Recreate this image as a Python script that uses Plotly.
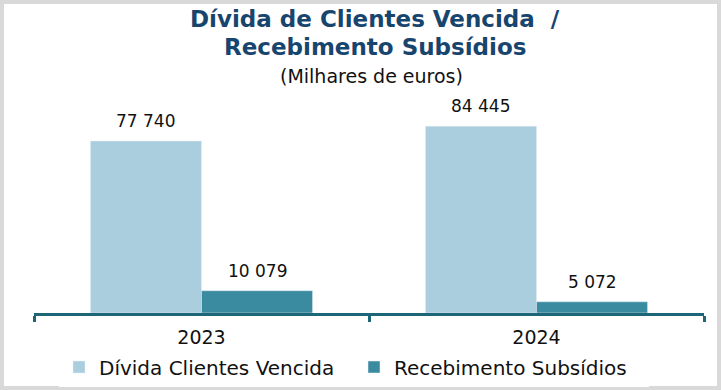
import plotly.graph_objects as go

categories = ["2023", "2024"]
divida_vencida = [77740, 84445]
receb_subsidios = [10079, 5072]
series_names = ["Dívida Clientes Vencida", "Recebimento Subsídios"]
title_lines = ["Dívida de Clientes Vencida  /", "Recebimento Subsídios"]
subtitle_text = "(Milhares de euros)"

LIGHT = "#aacede"
TEAL = "#3b8ba0"
AXIS = "#1d6678"
TITLE = "#17456e"
FONT = "'DejaVu Sans', sans-serif"

W, H = 721, 390
ML, MR, MT, MB = 34, 17, 110, 77
PW, PH = W - ML - MR, H - MT - MB

fig = go.Figure()
fig.add_bar(x=categories, y=divida_vencida, name=series_names[0], marker_color=LIGHT)
fig.add_bar(x=categories, y=receb_subsidios, name=series_names[1], marker_color=TEAL)

def fmt(v):
    return f"{v:,}".replace(",", " ")

def px_x(px):
    return (px - ML) / PW

def px_y(py):
    return (H - MB - py) / PH

annotations = []
for vals, shift in ((divida_vencida, -56), (receb_subsidios, 56)):
    for i, v in enumerate(vals):
        annotations.append(dict(x=i, y=v, xref="x", yref="y", text=fmt(v), showarrow=False,
                                xshift=shift, yshift=8, yanchor="bottom",
                                font=dict(family=FONT, size=17, color="#111111")))
for line, cy in zip(title_lines, (19, 47)):
    annotations.append(dict(x=px_x(375), y=px_y(cy), xref="paper", yref="paper", text=line,
                            showarrow=False, xanchor="center", yanchor="middle",
                            font=dict(family=FONT, size=23, color=TITLE, weight="bold")))
annotations.append(dict(x=px_x(371), y=px_y(76), xref="paper", yref="paper", text=subtitle_text,
                        showarrow=False, xanchor="center", yanchor="middle",
                        font=dict(family=FONT, size=19, color="#111111")))

fig.update_layout(
    width=W, height=H,
    margin=dict(l=ML, r=MR, t=MT, b=MB, autoexpand=False),
    paper_bgcolor="white", plot_bgcolor="white",
    barmode="group", bargap=0.337, bargroupgap=0,
    font=dict(family=FONT, size=18, color="#111111"),
    xaxis=dict(type="category", range=[-0.5, 1.5], showline=True, linecolor=AXIS, linewidth=3,
               ticks="outside", tickson="boundaries", ticklen=6, tickwidth=3, tickcolor=AXIS,
               ticklabelstandoff=5,
               tickfont=dict(family=FONT, size=19, color="#111111"), showgrid=False),
    yaxis=dict(range=[0, 91750], visible=False, showgrid=False),
    showlegend=True,
    legend=dict(orientation="h", x=px_x(59), xanchor="left", y=px_y(367), yanchor="middle",
                font=dict(family=FONT, size=20, color="#111111"),
                entrywidth=250, traceorder="normal"),
    annotations=annotations,
    shapes=[dict(type="rect", xref="paper", yref="paper",
                 x0=px_x(2), x1=px_x(W - 2), y0=px_y(H - 2), y1=px_y(2),
                 line=dict(color="#d9d9d9", width=4), fillcolor="rgba(0,0,0,0)")],
)

fig.write_html("out.html", config={"displayModeBar": False},
               post_script="document.body.style.margin='0';document.body.style.overflow='hidden';")
